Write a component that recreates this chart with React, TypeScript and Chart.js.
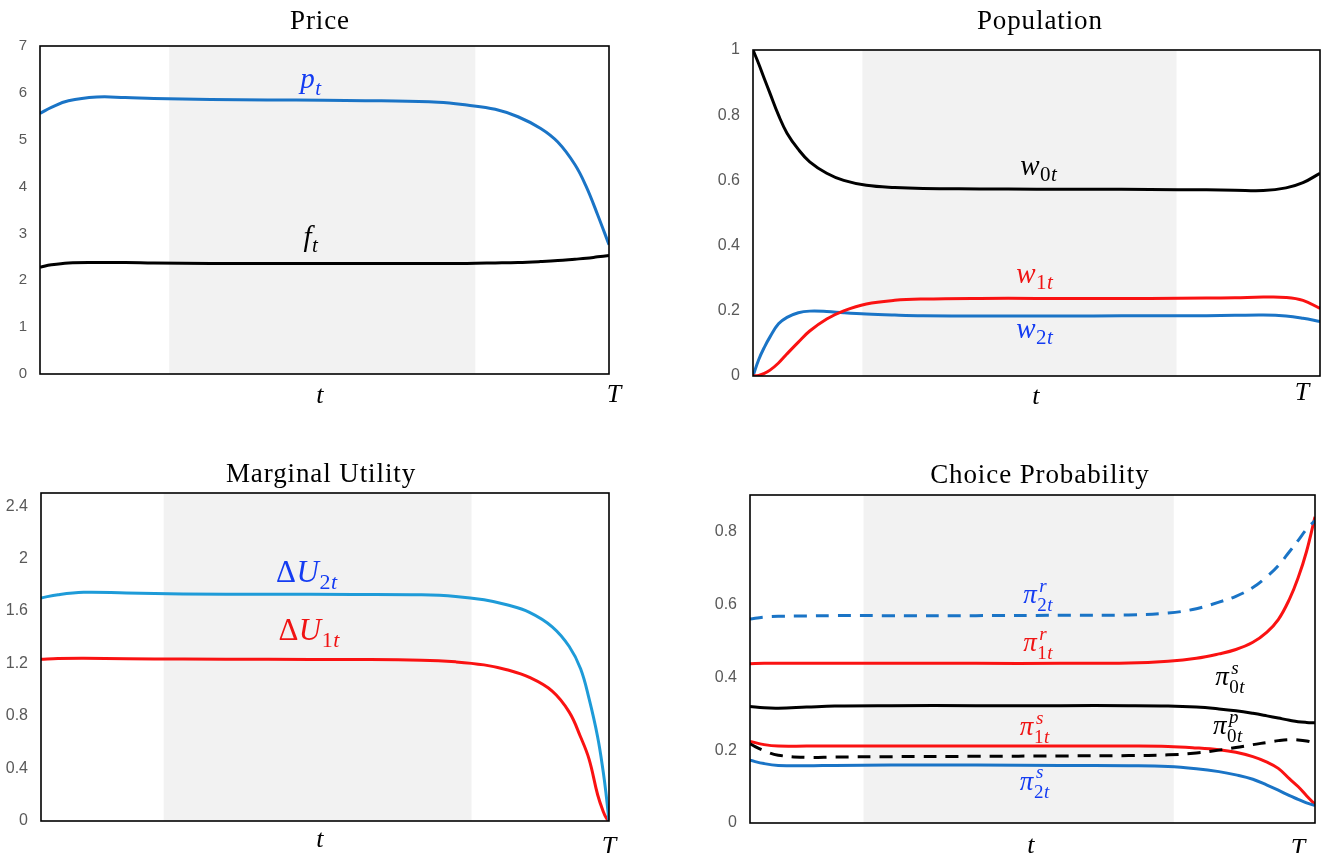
import React, { useEffect, useRef } from "react";
import { Chart, registerables } from "chart.js";

Chart.register(...registerables);

// ---- Price panel -------------------------------------------------------
const priceT = [0, 0.02, 0.05, 0.1, 0.15, 0.2, 0.3, 0.4, 0.5, 0.6, 0.7, 0.75, 0.8, 0.84, 0.88, 0.91, 0.94, 0.96, 0.98, 1.0];
const priceP = [5.56, 5.69, 5.83, 5.91, 5.9, 5.88, 5.86, 5.85, 5.84, 5.83, 5.8, 5.74, 5.65, 5.49, 5.24, 4.95, 4.47, 4.0, 3.4, 2.76];
const priceF = [2.28, 2.33, 2.37, 2.38, 2.38, 2.37, 2.36, 2.36, 2.36, 2.36, 2.36, 2.36, 2.37, 2.38, 2.4, 2.42, 2.45, 2.47, 2.5, 2.53];

// ---- Population panel --------------------------------------------------
const popT = [0, 0.01, 0.02, 0.03, 0.045, 0.06, 0.08, 0.1, 0.13, 0.16, 0.2, 0.25, 0.3, 0.4, 0.5, 0.6, 0.7, 0.8, 0.85, 0.9, 0.94, 0.97, 1.0];
const popW0 = [1.0, 0.958, 0.912, 0.867, 0.8, 0.745, 0.695, 0.657, 0.622, 0.6, 0.585, 0.578, 0.575, 0.574, 0.573, 0.573, 0.572, 0.571, 0.57, 0.569, 0.577, 0.593, 0.622];
const popW1 = [0, 0.002, 0.008, 0.018, 0.04, 0.068, 0.104, 0.138, 0.175, 0.2, 0.221, 0.232, 0.236, 0.238, 0.238, 0.238, 0.238, 0.239, 0.24, 0.242, 0.241, 0.232, 0.207];
const popW2 = [0, 0.05, 0.088, 0.12, 0.16, 0.18, 0.194, 0.199, 0.198, 0.194, 0.19, 0.187, 0.185, 0.184, 0.184, 0.184, 0.185, 0.185, 0.186, 0.187, 0.184, 0.177, 0.167];

// ---- Marginal utility panel --------------------------------------------
const muT = [0, 0.03, 0.075, 0.15, 0.25, 0.4, 0.55, 0.67, 0.73, 0.78, 0.82, 0.86, 0.9, 0.93, 0.95, 0.965, 0.98, 0.99, 0.995, 1.0];
const muDU2 = [1.7, 1.725, 1.743, 1.738, 1.731, 1.728, 1.727, 1.724, 1.712, 1.686, 1.648, 1.59, 1.48, 1.33, 1.16, 0.93, 0.64, 0.37, 0.2, 0.0];
const muDU1 = [1.233, 1.238, 1.24, 1.237, 1.234, 1.232, 1.231, 1.226, 1.213, 1.19, 1.153, 1.094, 0.99, 0.83, 0.64, 0.47, 0.2, 0.07, 0.025, 0.0];

// ---- Choice probability panel ------------------------------------------
const cpT = [0, 0.025, 0.05, 0.1, 0.15, 0.25, 0.4, 0.55, 0.67, 0.74, 0.79, 0.83, 0.86, 0.89, 0.915, 0.935, 0.955, 0.97, 0.985, 1.0];
const cpPi2r = [0.56, 0.565, 0.567, 0.568, 0.569, 0.569, 0.569, 0.57, 0.571, 0.576, 0.588, 0.606, 0.622, 0.646, 0.676, 0.706, 0.745, 0.775, 0.806, 0.83];
const cpPi1r = [0.437, 0.438, 0.438, 0.438, 0.438, 0.438, 0.438, 0.438, 0.439, 0.444, 0.452, 0.464, 0.476, 0.496, 0.524, 0.558, 0.615, 0.672, 0.745, 0.84];
const cpPi0s = [0.32, 0.316, 0.315, 0.318, 0.321, 0.322, 0.322, 0.322, 0.322, 0.321, 0.318, 0.313, 0.308, 0.301, 0.294, 0.288, 0.282, 0.278, 0.276, 0.275];
const cpPi1s = [0.224, 0.215, 0.211, 0.211, 0.211, 0.211, 0.211, 0.211, 0.211, 0.21, 0.206, 0.201, 0.194, 0.182, 0.167, 0.15, 0.121, 0.1, 0.075, 0.051];
const cpPi0p = [0.217, 0.198, 0.186, 0.18, 0.181, 0.182, 0.183, 0.184, 0.185, 0.187, 0.192, 0.2, 0.207, 0.215, 0.221, 0.226, 0.229, 0.228, 0.225, 0.219];
const cpPi2s = [0.172, 0.163, 0.158, 0.157, 0.158, 0.159, 0.159, 0.158, 0.157, 0.155, 0.149, 0.141, 0.132, 0.12, 0.104, 0.09, 0.075, 0.065, 0.055, 0.048];

// Shaded middle stretch of the horizon, per panel
const priceShade = [0.227, 0.765];
const popShade = [0.193, 0.747];
const muShade = [0.216, 0.758];
const cpShade = [0.201, 0.75];

const LINE_BLUE = "#1a74c6";
const SKY_BLUE = "#1e9bd8";
const RED = "#fa1212";
const BLACK = "#000000";
const TXT_BLUE = "#143cf2";
const TXT_RED = "#f01414";
const SERIF = '"Liberation Serif", "DejaVu Serif", serif';

type Run = [string, boolean];
interface MathLabel {
  t: number;
  v: number;
  base: Run[];
  sub?: Run[];
  sup?: Run[];
  size: number;
  color: string;
}
interface Series {
  name: string;
  t: number[];
  y: number[];
  color: string;
  dash?: number[];
}
interface PanelSpec {
  title: string;
  titleAt: number;
  titleRise: number;
  area: { left: number; top: number; right: number; bottom: number };
  yMax: number;
  yStep: number;
  tickSize: number;
  shade: number[];
  series: Series[];
  labels: MathLabel[];
  tAxis: { tAt: number; tDrop: number; TShift: number; TDrop: number };
}

function runsWidth(ctx: CanvasRenderingContext2D, runs: Run[], size: number) {
  let w = 0;
  for (const [s, it] of runs) {
    ctx.font = `${it ? "italic " : ""}${size}px ${SERIF}`;
    w += ctx.measureText(s).width + 0.5;
  }
  return w;
}

function drawRuns(ctx: CanvasRenderingContext2D, runs: Run[], x: number, y: number, size: number) {
  let cx = x;
  for (const [s, it] of runs) {
    ctx.font = `${it ? "italic " : ""}${size}px ${SERIF}`;
    ctx.fillText(s, cx, y);
    cx += ctx.measureText(s).width + 0.5;
  }
}

function drawMath(ctx: CanvasRenderingContext2D, lab: MathLabel, cx: number, baseY: number) {
  const small = Math.round(lab.size * 0.72);
  const wb = runsWidth(ctx, lab.base, lab.size);
  const ws = lab.sub ? runsWidth(ctx, lab.sub, small) : 0;
  const wp = lab.sup ? runsWidth(ctx, lab.sup, small) + 2 : 0;
  const total = wb + Math.max(ws, wp);
  const x0 = cx - total / 2;
  ctx.fillStyle = lab.color;
  ctx.textAlign = "left";
  ctx.textBaseline = "alphabetic";
  drawRuns(ctx, lab.base, x0, baseY, lab.size);
  if (lab.sup) drawRuns(ctx, lab.sup, x0 + wb + 2, baseY - lab.size * 0.42, small);
  if (lab.sub) drawRuns(ctx, lab.sub, x0 + wb, baseY + lab.size * (lab.sup ? 0.3 : 0.22), small);
}

const decorations = {
  id: "panelDecor",
  beforeDatasetsDraw(chart: any, _a: any, opts: any) {
    const spec: PanelSpec = opts.spec;
    const { ctx, chartArea } = chart;
    const xs = chart.scales.x;
    const x1 = xs.getPixelForValue(spec.shade[0]);
    const x2 = xs.getPixelForValue(spec.shade[1]);
    ctx.save();
    ctx.fillStyle = "#f2f2f2";
    ctx.fillRect(x1, chartArea.top, x2 - x1, chartArea.bottom - chartArea.top);
    ctx.restore();
  },
  afterDraw(chart: any, _a: any, opts: any) {
    const spec: PanelSpec = opts.spec;
    const { ctx, chartArea } = chart;
    const xs = chart.scales.x;
    const ys = chart.scales.y;
    ctx.save();
    // frame
    ctx.strokeStyle = "#000";
    ctx.lineWidth = 1.6;
    ctx.strokeRect(chartArea.left, chartArea.top, chartArea.right - chartArea.left, chartArea.bottom - chartArea.top);

    // title
    ctx.fillStyle = "#000";
    ctx.textAlign = "center";
    ctx.textBaseline = "alphabetic";
    ctx.font = `27px ${SERIF}`;
    (ctx as any).letterSpacing = "0.9px";
    ctx.fillText(spec.title, xs.getPixelForValue(spec.titleAt), chartArea.top - spec.titleRise);
    (ctx as any).letterSpacing = "0px";

    // time axis marks
    ctx.font = `italic 26px ${SERIF}`;
    ctx.fillText("t", xs.getPixelForValue(spec.tAxis.tAt), chartArea.bottom + spec.tAxis.tDrop);
    ctx.fillText("T", chartArea.right + spec.tAxis.TShift, chartArea.bottom + spec.tAxis.TDrop);

    // curve labels
    for (const lab of spec.labels) {
      drawMath(ctx, lab, xs.getPixelForValue(lab.t), ys.getPixelForValue(lab.v));
    }
    ctx.restore();
  },
};

const W = 1325;
const H = 853;

function Panel({ spec }: { spec: PanelSpec }) {
  const ref = useRef<HTMLCanvasElement>(null);
  useEffect(() => {
    const axisW = 40;
    const a = spec.area;
    const chart = new Chart(ref.current!, {
      type: "line",
      data: {
        datasets: spec.series.map((s) => ({
          label: s.name,
          data: s.t.map((t, i) => ({ x: t, y: s.y[i] })),
          borderColor: s.color,
          borderWidth: 3,
          borderDash: s.dash || [],
          borderCapStyle: "butt",
          borderJoinStyle: "round",
          pointRadius: 0,
          fill: false,
          tension: 0.4,
        })) as any,
      },
      options: {
        responsive: false,
        animation: false,
        events: [],
        layout: {
          padding: { left: a.left - axisW, top: a.top, right: W - a.right, bottom: H - a.bottom },
        },
        plugins: {
          legend: { display: false },
          tooltip: { enabled: false },
          panelDecor: { spec },
        } as any,
        scales: {
          x: { type: "linear", min: 0, max: 1, display: false },
          y: {
            type: "linear",
            min: 0,
            max: spec.yMax,
            grid: { display: false, drawTicks: false },
            border: { display: false },
            afterFit: (s: any) => {
              s.width = axisW;
            },
            ticks: {
              stepSize: spec.yStep,
              includeBounds: false,
              padding: 13,
              color: "#595959",
              font: { family: '"Liberation Sans", Arial, sans-serif', size: spec.tickSize },
              callback: (v: any) => String(Math.round(Number(v) * 10) / 10),
            },
          },
        },
      },
      plugins: [decorations as any],
    });
    return () => chart.destroy();
  }, [spec]);
  return (
    <canvas
      ref={ref}
      width={W}
      height={H}
      style={{ position: "absolute", left: 0, top: 0, width: W, height: H, pointerEvents: "none" }}
    />
  );
}

const panels: PanelSpec[] = [
  {
    title: "Price",
    titleAt: 0.492,
    titleRise: 17,
    area: { left: 40, top: 46, right: 609, bottom: 374 },
    yMax: 7,
    yStep: 1,
    tickSize: 15,
    shade: priceShade,
    series: [
      { name: "p", t: priceT, y: priceP, color: LINE_BLUE },
      { name: "f", t: priceT, y: priceF, color: BLACK },
    ],
    labels: [
      { t: 0.476, v: 6.1, base: [["p", true]], sub: [["t", true]], size: 29, color: TXT_BLUE },
      { t: 0.476, v: 2.73, base: [["f", true]], sub: [["t", true]], size: 29, color: BLACK },
    ],
    tAxis: { tAt: 0.492, tDrop: 29, TShift: 5, TDrop: 28 },
  },
  {
    title: "Population",
    titleAt: 0.506,
    titleRise: 21,
    area: { left: 753, top: 50, right: 1320, bottom: 376 },
    yMax: 1,
    yStep: 0.2,
    tickSize: 16,
    shade: popShade,
    series: [
      { name: "w0", t: popT, y: popW0, color: BLACK },
      { name: "w1", t: popT, y: popW1, color: RED },
      { name: "w2", t: popT, y: popW2, color: LINE_BLUE },
    ],
    labels: [
      { t: 0.504, v: 0.617, base: [["w", true]], sub: [["0", false], ["t", true]], size: 29, color: BLACK },
      { t: 0.497, v: 0.285, base: [["w", true]], sub: [["1", false], ["t", true]], size: 29, color: TXT_RED },
      { t: 0.497, v: 0.117, base: [["w", true]], sub: [["2", false], ["t", true]], size: 29, color: TXT_BLUE },
    ],
    tAxis: { tAt: 0.499, tDrop: 28, TShift: -18, TDrop: 24 },
  },
  {
    title: "Marginal Utility",
    titleAt: 0.493,
    titleRise: 11,
    area: { left: 41, top: 493, right: 609, bottom: 821 },
    yMax: 2.5,
    yStep: 0.4,
    tickSize: 16,
    shade: muShade,
    series: [
      { name: "dU2", t: muT, y: muDU2, color: SKY_BLUE },
      { name: "dU1", t: muT, y: muDU1, color: RED },
    ],
    labels: [
      { t: 0.468, v: 1.822, base: [["Δ", false], ["U", true]], sub: [["2", false], ["t", true]], size: 31, color: TXT_BLUE },
      { t: 0.472, v: 1.38, base: [["Δ", false], ["U", true]], sub: [["1", false], ["t", true]], size: 31, color: TXT_RED },
    ],
    tAxis: { tAt: 0.491, tDrop: 26, TShift: 0, TDrop: 33 },
  },
  {
    title: "Choice Probability",
    titleAt: 0.513,
    titleRise: 12,
    area: { left: 750, top: 495, right: 1315, bottom: 823 },
    yMax: 0.9,
    yStep: 0.2,
    tickSize: 16,
    shade: cpShade,
    series: [
      { name: "pi0s", t: cpT, y: cpPi0s, color: BLACK },
      { name: "pi0p", t: cpT, y: cpPi0p, color: BLACK, dash: [13, 9] },
      { name: "pi2s", t: cpT, y: cpPi2s, color: LINE_BLUE },
      { name: "pi2r", t: cpT, y: cpPi2r, color: LINE_BLUE, dash: [13, 9] },
      { name: "pi1s", t: cpT, y: cpPi1s, color: RED },
      { name: "pi1r", t: cpT, y: cpPi1r, color: RED },
    ],
    labels: [
      { t: 0.51, v: 0.604, base: [["π", true]], sup: [["r", true]], sub: [["2", false], ["t", true]], size: 27, color: TXT_BLUE },
      { t: 0.51, v: 0.472, base: [["π", true]], sup: [["r", true]], sub: [["1", false], ["t", true]], size: 27, color: TXT_RED },
      { t: 0.85, v: 0.379, base: [["π", true]], sup: [["s", true]], sub: [["0", false], ["t", true]], size: 27, color: BLACK },
      { t: 0.504, v: 0.241, base: [["π", true]], sup: [["s", true]], sub: [["1", false], ["t", true]], size: 27, color: TXT_RED },
      { t: 0.846, v: 0.244, base: [["π", true]], sup: [["p", true]], sub: [["0", false], ["t", true]], size: 27, color: BLACK },
      { t: 0.504, v: 0.091, base: [["π", true]], sup: [["s", true]], sub: [["2", false], ["t", true]], size: 27, color: TXT_BLUE },
    ],
    tAxis: { tAt: 0.497, tDrop: 30, TShift: -17, TDrop: 33 },
  },
];

export default function App() {
  return (
    <div style={{ position: "fixed", left: 0, top: 0, width: W, height: H, background: "#fff", overflow: "hidden" }}>
      {panels.map((p) => (
        <Panel key={p.title} spec={p} />
      ))}
    </div>
  );
}
